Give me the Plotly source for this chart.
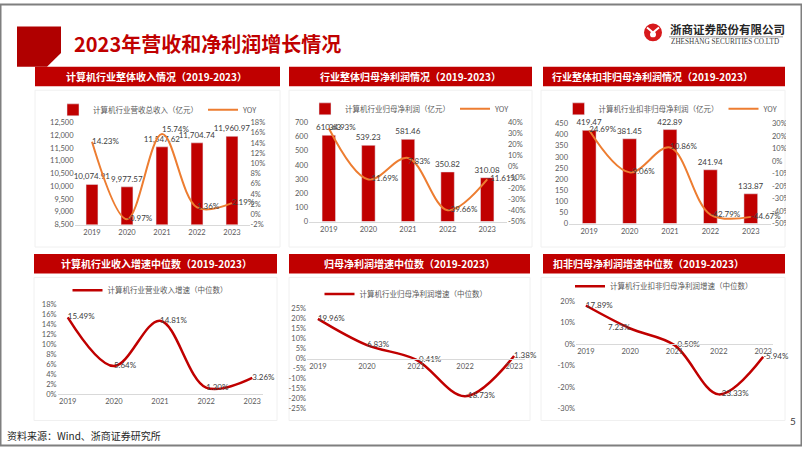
import plotly.graph_objects as go

# ---------------- data ----------------
years = ['2019', '2020', '2021', '2022', '2023']

revenue = [10074.91, 9977.57, 11547.62, 11704.74, 11960.97]
revenue_yoy = [14.23, -0.97, 15.74, 1.36, 2.19]

np_parent = [610.63, 539.23, 581.46, 350.82, 310.08]
np_parent_yoy = [34.93, -11.69, 7.83, -39.66, -11.61]

np_deducted = [419.47, 381.45, 422.89, 241.94, 133.87]
np_deducted_yoy = [24.69, -9.06, 10.86, -42.79, -44.67]

median_rev_growth = [15.49, 5.64, 14.81, 1.30, 3.26]
median_np_growth = [19.96, 6.83, -0.41, -18.73, 1.38]
median_npd_growth = [17.89, 7.23, -0.50, -23.33, -5.94]

panel_titles = ['计算机行业整体收入情况（2019-2023）',
                '行业整体归母净利润情况（2019-2023）',
                '行业整体扣非归母净利润情况（2019-2023）',
                '计算机行业收入增速中位数（2019-2023）',
                '归母净利润增速中位数（2019-2023）',
                '扣非归母净利润增速中位数（2019-2023）']

bar_names = ['计算机行业营收总收入（亿元）', '计算机行业归母净利润（亿元）', '计算机行业扣非归母净利润（亿元）']
yoy_name = 'YOY'
median_names = ['计算机行业营业收入增速（中位数）', '计算机行业归母净利润增速（中位数）',
                '计算机行业扣非归母净利润增速（中位数）']

left_ticks = [[8500, 9000, 9500, 10000, 10500, 11000, 11500, 12000, 12500],
              [0, 100, 200, 300, 400, 500, 600, 700],
              [0, 50, 100, 150, 200, 250, 300, 350, 400, 450]]
right_ticks = [[-2, 0, 2, 4, 6, 8, 10, 12, 14, 16, 18],
               [-50, -40, -30, -20, -10, 0, 10, 20, 30, 40],
               [-50, -40, -30, -20, -10, 0, 10, 20, 30]]
median_ticks = [[0, 2, 4, 6, 8, 10, 12, 14, 16, 18],
                [-25, -20, -15, -10, -5, 0, 5, 10, 15, 20, 25],
                [-30, -20, -10, 0, 10, 20]]

main_title = '2023年营收和净利润增长情况'
source_text = '资料来源：Wind、浙商证券研究所'
company_cn = '浙商证券股份有限公司'
company_en = 'ZHESHANG SECURITIES CO.LTD'
page_no = '5'

# ---------------- styling / geometry ----------------
W, H = 802, 451
def fx(p): return p / W
def fy(p): return 1 - p / H

RED = '#C00000'
ORANGE = '#ED7D31'
GREY = '#595959'
FONT = "Lato, 'Noto Sans CJK SC', sans-serif"
CJK = "'Noto Sans CJK SC', sans-serif"

# plot areas in pixels (x0, x1, ytop, ybottom)
bar_areas = [(74.5, 249.5, 121, 225), (309, 507, 121, 222), (569, 771, 122, 224)]
line_areas = [(57.5, 262.5, 307, 398), (307, 525, 311, 413), (576, 773, 303, 413)]
legend_centers = [(158, 108), (410, 107), (671, 107), (150, 292), (406, 296), (664, 288)]

bar_series = [revenue, np_parent, np_deducted]
yoy_series = [revenue_yoy, np_parent_yoy, np_deducted_yoy]
median_series = [median_rev_growth, median_np_growth, median_npd_growth]
bar_fmt = ['%{y:,.2f}', '%{y:.2f}', '%{y:.2f}']
yoy_pos = [['middle right', 'middle right', 'top right', 'middle right', 'middle right'],
           ['middle right', 'middle right', 'bottom right', 'middle right', 'middle right'],
           ['middle right', 'middle right', 'middle right', 'middle right', 'middle right']]
median_pos = [['middle right'] * 5,
              ['middle right'] * 5,
              ['middle right', 'middle left', 'middle right', 'middle right', 'middle right']]

def suf(n):
    return '' if n == 1 else str(n)

fig = go.Figure()
layout = dict(width=W, height=H, autosize=False,
              margin=dict(l=0, r=0, t=0, b=0),
              paper_bgcolor='white', plot_bgcolor='rgba(0,0,0,0)',
              bargap=0.66, showlegend=True,
              font=dict(family=FONT, size=8, color=GREY))

tickfont = dict(family=FONT, size=7.5, color=GREY)

# ---- bar + line charts ----
for i in range(3):
    xn = i + 1
    yl = 2 * i + 1
    yr = 2 * i + 2
    leg = 'legend' + suf(i + 1)
    x0, x1, yt, yb = bar_areas[i]
    fig.add_trace(go.Bar(x=years, y=bar_series[i], name=bar_names[i],
                         marker_color=RED, texttemplate=bar_fmt[i],
                         textposition='outside', cliponaxis=False, constraintext='none',
                         textfont=dict(size=8, color='#404040', family=FONT),
                         xaxis='x' + suf(xn), yaxis='y' + suf(yl), legend=leg))
    fig.add_trace(go.Scatter(x=years, y=yoy_series[i], name=yoy_name, mode='lines+text',
                             line=dict(color=ORANGE, width=2, shape='spline', smoothing=1.0),
                             text=[f'{v:.2f}%' for v in yoy_series[i]],
                             textposition=yoy_pos[i], cliponaxis=False,
                             textfont=dict(size=8, color='#404040', family=FONT),
                             xaxis='x' + suf(xn), yaxis='y' + suf(yr), legend=leg))
    lt = left_ticks[i]
    rt = right_ticks[i]
    layout['xaxis' + suf(xn)] = dict(domain=[fx(x0), fx(x1)], anchor='y' + suf(yl),
                                    type='category', showline=True, linecolor='#D9D9D9',
                                    ticks='', showgrid=False, tickfont=tickfont, fixedrange=True)
    layout['yaxis' + suf(yl)] = dict(domain=[fy(yb), fy(yt)], anchor='x' + suf(xn),
                                    range=[lt[0], lt[-1]], tickvals=lt,
                                    ticktext=[f'{v:,}' for v in lt], showgrid=False,
                                    zeroline=False, showline=False, tickfont=tickfont,
                                    fixedrange=True)
    layout['yaxis' + suf(yr)] = dict(overlaying='y' + suf(yl), side='right', anchor='x' + suf(xn),
                                    range=[rt[0], rt[-1]], tickvals=rt,
                                    ticktext=[f'{v}%' for v in rt], showgrid=False,
                                    zeroline=False, showline=False, tickfont=tickfont,
                                    fixedrange=True)

# ---- median line charts ----
for j in range(3):
    xn = j + 4
    yn = j + 7
    leg = 'legend' + suf(j + 4)
    x0, x1, yt, yb = line_areas[j]
    mt = median_ticks[j]
    fig.add_trace(go.Scatter(x=years, y=median_series[j], name=median_names[j], mode='lines+text',
                             line=dict(color=RED, width=2.5, shape='spline', smoothing=1.0),
                             text=[f'{v:.2f}%' for v in median_series[j]],
                             textposition=median_pos[j], cliponaxis=False,
                             textfont=dict(size=8, color='#404040', family=FONT),
                             xaxis='x' + suf(xn), yaxis='y' + suf(yn), legend=leg))
    xa = dict(domain=[fx(x0), fx(x1)], type='category', showline=True, linecolor='#D9D9D9',
              ticks='', showgrid=False, tickfont=tickfont, fixedrange=True)
    if j == 0:
        xa['anchor'] = 'y' + suf(yn)
    else:
        zero_px = yt + (mt[-1] - 0) / (mt[-1] - mt[0]) * (yb - yt)
        xa['anchor'] = 'free'
        xa['position'] = fy(zero_px)
    layout['xaxis' + suf(xn)] = xa
    layout['yaxis' + suf(yn)] = dict(domain=[fy(yb), fy(yt)], anchor='x' + suf(xn),
                                    range=[mt[0], mt[-1]], tickvals=mt,
                                    ticktext=[f'{v}%' for v in mt], showgrid=False,
                                    zeroline=False, showline=False, tickfont=tickfont,
                                    fixedrange=True)

# ---- legends ----
for k, (cx, cy) in enumerate(legend_centers):
    layout['legend' + suf(k + 1)] = dict(orientation='h', x=fx(cx), xanchor='center',
                                         y=fy(cy), yanchor='middle',
                                         font=dict(family=CJK, size=7.5, color=GREY),
                                         bgcolor='rgba(0,0,0,0)', itemwidth=30,
                                         tracegroupgap=0)

# ---- shapes ----
shapes = []
frames = [(35, 280, 88, 248), (289, 532, 88, 248), (541, 785, 88, 248),
          (34, 277, 279, 425), (289, 530, 279, 425), (541, 785, 279, 425)]
for (a, b, c, d) in frames:
    shapes.append(dict(type='rect', xref='paper', yref='paper', x0=fx(a), x1=fx(b),
                       y0=fy(d), y1=fy(c), line=dict(color='#F0F0F0', width=1),
                       fillcolor='rgba(0,0,0,0)', layer='below'))
bars_px = [(35, 280, 64, 84), (289, 532, 64, 84), (543, 785, 64, 84),
           (34, 277, 255, 275), (289, 530, 255, 275), (543, 785, 255, 275)]
for (a, b, c, d) in bars_px:
    shapes.append(dict(type='rect', xref='paper', yref='paper', x0=fx(a), x1=fx(b),
                       y0=fy(d), y1=fy(c), line=dict(width=0), fillcolor=RED, layer='below'))
pts = [(17, 23), (61, 23), (61, 50), (47, 64), (17, 64)]
path = 'M ' + ' L '.join(f'{fx(a):.5f},{fy(b):.5f}' for a, b in pts) + ' Z'
shapes.append(dict(type='path', xref='paper', yref='paper', path=path,
                   fillcolor='#B00000', line=dict(width=0)))
shapes.append(dict(type='circle', xref='paper', yref='paper', x0=fx(644), x1=fx(662),
                   y0=fy(38), y1=fy(20), fillcolor='#D7191C', line=dict(width=0)))
shapes.append(dict(type='circle', xref='paper', yref='paper', x0=fx(650), x1=fx(656),
                   y0=fy(34), y1=fy(28), fillcolor='white', line=dict(width=0)))
lp = [(647, 24), (653, 29), (659, 24)]
shapes.append(dict(type='path', xref='paper', yref='paper',
                   path='M ' + ' L '.join(f'{fx(a):.5f},{fy(b):.5f}' for a, b in lp),
                   line=dict(color='white', width=2)))
shapes.append(dict(type='line', xref='paper', yref='paper', x0=fx(669), x1=fx(783),
                   y0=fy(33.5), y1=fy(33.5), line=dict(color='#7F7F7F', width=0.8)))
shapes.append(dict(type='rect', xref='paper', yref='paper', x0=fx(786), x1=fx(801),
                   y0=fy(250), y1=fy(86), fillcolor='white', line=dict(width=0), layer='above'))
shapes.append(dict(type='rect', xref='paper', yref='paper', x0=fx(0.5), x1=fx(801.5),
                   y0=fy(450.5), y1=fy(0.5), line=dict(color='#7F7F7F', width=2),
                   fillcolor='rgba(0,0,0,0)'))
layout['shapes'] = shapes

# ---- annotations ----
ann = []
ann.append(dict(text=f'<b>{main_title}</b>', x=fx(72), y=fy(40), xref='paper', yref='paper',
                xanchor='left', yanchor='middle', showarrow=False,
                font=dict(family=CJK, size=20, color=RED)))
title_centers = [(156, 74), (410, 74), (652, 74), (156, 265), (409, 265), (648, 265)]
for t, (cx, cy) in zip(panel_titles, title_centers):
    ann.append(dict(text=f'<b>{t}</b>', x=fx(cx), y=fy(cy), xref='paper', yref='paper',
                    xanchor='center', yanchor='middle', showarrow=False,
                    font=dict(family=CJK, size=10, color='white')))
ann.append(dict(text=f'<b>{company_cn}</b>', x=fx(668), y=fy(26), xref='paper', yref='paper',
                xanchor='left', yanchor='middle', showarrow=False,
                font=dict(family=CJK, size=11.5, color='#262626')))
ann.append(dict(text=company_en, x=fx(669), y=fy(39), xref='paper', yref='paper',
                xanchor='left', yanchor='middle', showarrow=False,
                font=dict(family="'Liberation Serif', serif", size=7.2, color='#404040')))
ann.append(dict(text=source_text, x=fx(5), y=fy(440), xref='paper', yref='paper',
                xanchor='left', yanchor='middle', showarrow=False,
                font=dict(family=CJK, size=10, color='#262626')))
ann.append(dict(text=page_no, x=fx(793), y=fy(425), xref='paper', yref='paper',
                xanchor='center', yanchor='middle', showarrow=False,
                font=dict(family=FONT, size=10, color='#404040')))
layout['annotations'] = ann

fig.update_layout(**layout)
fig.write_html('out.html', include_plotlyjs=True, config={'displayModeBar': False},
               post_script="document.body.style.margin='0';document.body.style.overflow='hidden';")
